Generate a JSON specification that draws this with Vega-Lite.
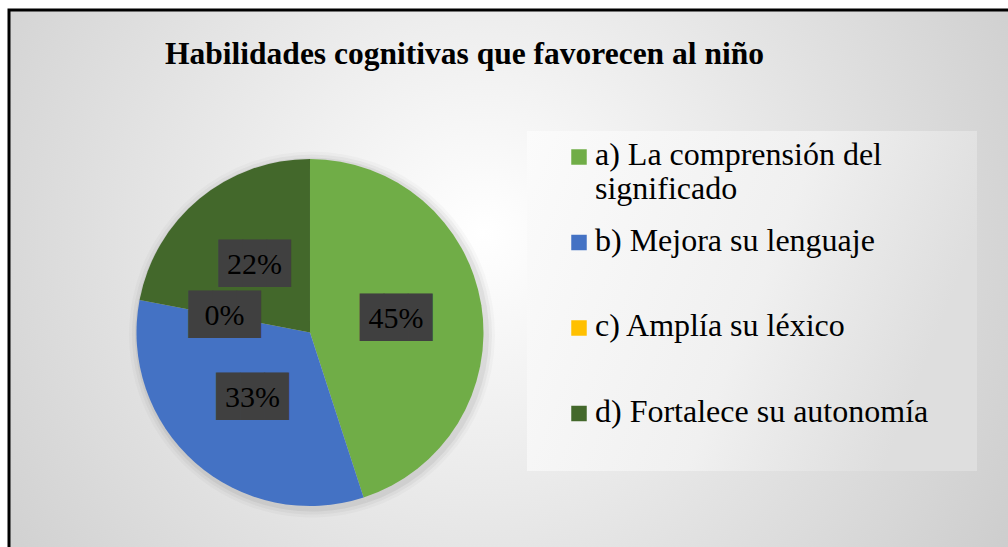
{
  "$schema": "https://vega.github.io/schema/vega-lite/v6.json",
  "width": 1008,
  "height": 547,
  "autosize": {"type": "fit", "contains": "padding"},
  "padding": {"left": 9, "top": 10, "right": -10, "bottom": -10},
  "background": "#ffffff",
  "title": {
    "text": "Habilidades  cognitivas que favorecen al niño",
    "font": "Liberation Serif, Times New Roman, serif",
    "fontSize": 31.5,
    "fontWeight": "bold",
    "color": "#000000",
    "anchor": "middle",
    "frame": "group",
    "baseline": "alphabetic",
    "offset": -52,
    "dx": -49,
    "dy": 33
  },
  "config": {
    "view": {
      "fill": {
        "gradient": "radial",
        "x1": 0.47, "y1": 0.45, "r1": 0,
        "x2": 0.47, "y2": 0.45, "r2": 0.72,
        "stops": [
          {"offset": 0, "color": "#ffffff"},
          {"offset": 1, "color": "#c4c4c4"}
        ]
      },
      "stroke": "#000000",
      "strokeWidth": 3
    }
  },
  "data": {
    "values": [
      {"cat": "a) La comprensión del significado", "pct": 0.45},
      {"cat": "b) Mejora su lenguaje", "pct": 0.33},
      {"cat": "c) Amplía su léxico", "pct": 0},
      {"cat": "d) Fortalece su autonomía", "pct": 0.22}
    ]
  },
  "encoding": {
    "x": {"datum": 0.2983, "type": "quantitative", "scale": {"domain": [0, 1], "nice": false, "zero": false}, "axis": null},
    "y": {"datum": 0.4104, "type": "quantitative", "scale": {"domain": [0, 1], "nice": false, "zero": false}, "axis": null}
  },
  "layer": [
    {
      "mark": {
        "type": "rect",
        "fill": {
          "gradient": "linear", "x1": 0, "y1": 0, "x2": 1, "y2": 0.3,
          "stops": [
            {"offset": 0, "color": "#fbfbfb"},
            {"offset": 0.6, "color": "#f0f0f0"},
            {"offset": 1, "color": "#dedede"}
          ]
        }
      },
      "encoding": {
        "x": {"datum": 0.5134, "type": "quantitative"},
        "x2": {"datum": 0.9594},
        "y": {"datum": 0.7788, "type": "quantitative"},
        "y2": {"datum": 0.1572}
      }
    },
    {
      "mark": {"type": "arc", "outerRadius": 183, "fill": "#000000", "opacity": 0.025},
      "encoding": {
        "x": {"datum": 0.3003, "type": "quantitative"},
        "y": {"datum": 0.4067, "type": "quantitative"},
        "theta": {"field": "pct", "type": "quantitative", "stack": true},
        "order": {"field": "cat", "type": "ordinal", "sort": "ascending"}
      }
    },
    {
      "mark": {"type": "arc", "outerRadius": 180, "fill": "#000000", "opacity": 0.035},
      "encoding": {
        "x": {"datum": 0.3003, "type": "quantitative"},
        "y": {"datum": 0.4067, "type": "quantitative"},
        "theta": {"field": "pct", "type": "quantitative", "stack": true},
        "order": {"field": "cat", "type": "ordinal", "sort": "ascending"}
      }
    },
    {
      "mark": {"type": "arc", "outerRadius": 177, "fill": "#000000", "opacity": 0.05},
      "encoding": {
        "x": {"datum": 0.3003, "type": "quantitative"},
        "y": {"datum": 0.4067, "type": "quantitative"},
        "theta": {"field": "pct", "type": "quantitative", "stack": true},
        "order": {"field": "cat", "type": "ordinal", "sort": "ascending"}
      }
    },
    {
      "mark": {"type": "arc", "outerRadius": 173.5},
      "encoding": {
        "theta": {"field": "pct", "type": "quantitative", "stack": true},
        "order": {"field": "cat", "type": "ordinal", "sort": "ascending"},
        "color": {
          "field": "cat",
          "type": "nominal",
          "scale": {
            "domain": ["a) La comprensión del significado", "b) Mejora su lenguaje", "c) Amplía su léxico", "d) Fortalece su autonomía"],
            "range": ["#70AD47", "#4472C4", "#FFC000", "#43682B"]
          },
          "legend": {
            "orient": "none",
            "legendX": 554,
            "legendY": 131,
            "direction": "vertical",
            "title": null,
            "padding": 0,
            "symbolType": "square",
            "symbolSize": 240,
            "symbolStrokeWidth": 0,
            "symbolOpacity": 1,
            "symbolOffset": 0,
            "labelFont": "Liberation Serif, Times New Roman, serif",
            "labelFontSize": 32,
            "labelColor": "#000000",
            "labelOffset": 0,
            "labelLimit": 0,
            "labelBaseline": "alphabetic",
            "labelLineHeight": 37,
            "gridAlign": "all",
            "rowPadding": 19.5,
            "labelExpr": "datum.value == 'a) La comprensión del significado' ? ['a) La comprensión del', 'significado'] : datum.label",
            "encode": {"labels": {"update": {"dy": {"value": 8}}}}
          }
        }
      }
    },
    {
      "mark": {"type": "text", "font": "DejaVu Sans Mono", "fontSize": 40, "baseline": "middle", "align": "center", "radius": 87, "fill": "#404040"},
      "encoding": {
        "theta": {"field": "pct", "type": "quantitative", "stack": true},
        "order": {"field": "cat", "type": "ordinal", "sort": "ascending"},
        "text": {"value": "███"}
      }
    },
    {
      "mark": {"type": "text", "font": "Liberation Serif, Times New Roman, serif", "fontSize": 30, "baseline": "middle", "align": "center", "radius": 87, "fill": "#000000"},
      "encoding": {
        "theta": {"field": "pct", "type": "quantitative", "stack": true},
        "order": {"field": "cat", "type": "ordinal", "sort": "ascending"},
        "text": {"field": "pct", "type": "quantitative", "format": ".0%"}
      }
    }
  ]
}
